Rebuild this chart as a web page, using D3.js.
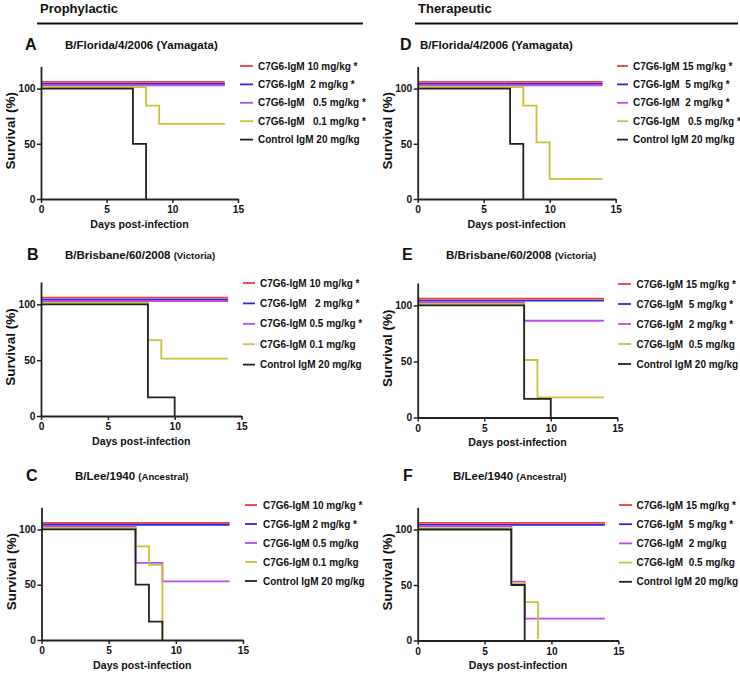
<!DOCTYPE html>
<html>
<head>
<meta charset="utf-8">
<script src="https://cdn.jsdelivr.net/npm/d3@7/dist/d3.min.js"></script>
<style>
  html, body { margin: 0; padding: 0; background: #fff; }
  svg text { font-family: "Liberation Sans", Arial, Helvetica, sans-serif; font-weight: bold; fill: #111; white-space: pre; }
</style>
</head>
<body>
<svg id="chart" width="740" height="675"></svg>
<script>
// ---------------- DATA ----------------
const xTicks = [0, 5, 10, 15];
const yTicks = [0, 50, 100];
const sectionTitles = ["Prophylactic", "Therapeutic"];
const panelLetters = ["A", "B", "C", "D", "E", "F"];
const strainNames = ["B/Florida/4/2006", "B/Brisbane/60/2008", "B/Lee/1940", "B/Florida/4/2006", "B/Brisbane/60/2008", "B/Lee/1940"];
const lineageNames = ["(Yamagata)", "(Victoria)", "(Ancestral)", "(Yamagata)", "(Victoria)", "(Ancestral)"];

const legendA = ["C7G6-IgM 10 mg/kg *", "C7G6-IgM  2 mg/kg *", "C7G6-IgM   0.5 mg/kg *", "C7G6-IgM   0.1 mg/kg *", "Control IgM 20 mg/kg"];
const legendB = ["C7G6-IgM 10 mg/kg *", "C7G6-IgM   2 mg/kg *", "C7G6-IgM 0.5 mg/kg *", "C7G6-IgM 0.1 mg/kg", "Control IgM 20 mg/kg"];
const legendC = ["C7G6-IgM 10 mg/kg *", "C7G6-IgM 2 mg/kg *", "C7G6-IgM 0.5 mg/kg", "C7G6-IgM 0.1 mg/kg", "Control IgM 20 mg/kg"];
const legendD = ["C7G6-IgM 15 mg/kg *", "C7G6-IgM  5 mg/kg *", "C7G6-IgM  2 mg/kg *", "C7G6-IgM   0.5 mg/kg *", "Control IgM 20 mg/kg"];
const legendE = ["C7G6-IgM 15 mg/kg *", "C7G6-IgM  5 mg/kg *", "C7G6-IgM  2 mg/kg *", "C7G6-IgM  0.5 mg/kg", "Control IgM 20 mg/kg"];
const legendF = ["C7G6-IgM 15 mg/kg *", "C7G6-IgM  5 mg/kg *", "C7G6-IgM  2 mg/kg", "C7G6-IgM  0.5 mg/kg", "Control IgM 20 mg/kg"];

// survival steps: [day, percent surviving] (step after)
const survA = [
  [[0, 100], [14, 100]],
  [[0, 100], [14, 100]],
  [[0, 100], [14, 100]],
  [[0, 100], [8, 83.3], [9, 66.7], [14, 66.7]],
  [[0, 100], [7, 50], [8, 0]]
];
const survB = [
  [[0, 100], [14, 100]],
  [[0, 100], [14, 100]],
  [[0, 100], [14, 100]],
  [[0, 100], [8, 66.7], [9, 50], [14, 50]],
  [[0, 100], [8, 16.7], [10, 0]]
];
const survC = [
  [[0, 100], [14, 100]],
  [[0, 100], [14, 100]],
  [[0, 100], [7, 66.7], [9, 50], [14, 50]],
  [[0, 100], [7, 83.3], [8, 66.7], [9, 0]],
  [[0, 100], [7, 50], [8, 16.7], [9, 0]]
];
const survD = [
  [[0, 100], [14, 100]],
  [[0, 100], [14, 100]],
  [[0, 100], [14, 100]],
  [[0, 100], [8, 83.3], [9, 50], [10, 16.7], [14, 16.7]],
  [[0, 100], [7, 50], [8, 0]]
];
const survE = [
  [[0, 100], [14, 100]],
  [[0, 100], [14, 100]],
  [[0, 100], [8, 83.3], [14, 83.3]],
  [[0, 100], [8, 50], [9, 16.7], [14, 16.7]],
  [[0, 100], [8, 16.7], [10, 0]]
];
const survF = [
  [[0, 100], [14, 100]],
  [[0, 100], [14, 100]],
  [[0, 100], [7, 50], [8, 16.7], [14, 16.7]],
  [[0, 100], [7, 50], [8, 33.3], [9, 0]],
  [[0, 100], [7, 50], [8, 0]]
];

// ---------------- STYLE / LAYOUT ----------------
const seriesColors = ["#ef3a3f", "#2a2ad6", "#b54ef0", "#c9c236", "#222222"];
const seriesNudge = [6, 4.2, 3, 1.3, 0];   // GraphPad-like vertical offset of overlapping curves (in % units)

const legends = [legendA, legendB, legendC, legendD, legendE, legendF];
const survivals = [survA, survB, survC, survD, survE, survF];

const layout = [
  { x0: 41,    x15: 238,   top: 66.5,  y0: 199,   lx1: 240, lx2: 253, tx: 258,   ly: 66,  ldy: 18.4, letX: 25,  letY: 50,  tX: 65,  tY: 49 },
  { x0: 41,    x15: 241.5, top: 282,   y0: 416,   lx1: 243, lx2: 255, tx: 260,   ly: 283, ldy: 20.4, letX: 27,  letY: 260, tX: 65,  tY: 259 },
  { x0: 41.5,  x15: 243,   top: 507.3, y0: 640,   lx1: 245, lx2: 257, tx: 263,   ly: 505, ldy: 19,   letX: 26,  letY: 481, tX: 75,  tY: 480 },
  { x0: 417.7, x15: 615.7, top: 66.5,  y0: 199,   lx1: 617, lx2: 628, tx: 633,   ly: 66,  ldy: 18.4, letX: 400, letY: 50,  tX: 420, tY: 49 },
  { x0: 417.7, x15: 617.3, top: 283,   y0: 417.5, lx1: 618, lx2: 631, tx: 636.5, ly: 284, ldy: 20,   letX: 402, letY: 260, tX: 446, tY: 259 },
  { x0: 417.7, x15: 618.3, top: 507.3, y0: 640.5, lx1: 619, lx2: 632, tx: 636.5, ly: 505, ldy: 19.2, letX: 403, letY: 481, tX: 453, tY: 480 }
];

const svg = d3.select("#chart");

// section headers
const headers = [
  { x: 40, y: 13, lx1: 37, lx2: 363 },
  { x: 418, y: 13, lx1: 415, lx2: 738 }
];
headers.forEach((h, i) => {
  svg.append("text").attr("x", h.x).attr("y", h.y).style("font-size", "13px").text(sectionTitles[i]);
  svg.append("line").attr("x1", h.lx1).attr("x2", h.lx2).attr("y1", 23.5).attr("y2", 23.5)
    .attr("stroke", "#111").attr("stroke-width", 2);
});

layout.forEach((L, p) => {
  const g = svg.append("g");
  const x = d3.scaleLinear().domain([0, 15]).range([L.x0, L.x15]);
  const y = d3.scaleLinear().domain([0, 120]).range([L.y0, L.top]);

  // letter + title
  g.append("text").attr("x", L.letX).attr("y", L.letY).style("font-size", "16px").text(panelLetters[p]);
  const t = g.append("text").attr("x", L.tX).attr("y", L.tY).style("font-size", "11.5px");
  t.append("tspan").text(strainNames[p] + " ");
  const smallLineage = (p % 3 !== 0);
  t.append("tspan").style("font-size", smallLineage ? "9.6px" : "11.5px").text(lineageNames[p]);

  // curves
  const line = d3.line().x(d => x(d[0])).y(d => y(d[1])).curve(d3.curveStepAfter);
  survivals[p].forEach((s, i) => {
    g.append("path")
      .datum(s.map(d => [d[0], d[1] + seriesNudge[i]]))
      .attr("d", line)
      .attr("fill", "none")
      .attr("stroke", seriesColors[i])
      .attr("stroke-width", 1.8);
  });

  // axes
  const xAxis = d3.axisBottom(x).tickValues(xTicks).tickSize(4).tickSizeOuter(0).tickPadding(3);
  const yAxis = d3.axisLeft(y).tickValues(yTicks).tickSize(4).tickSizeOuter(0).tickPadding(1.5);
  const gx = g.append("g").attr("transform", `translate(0,${L.y0})`).call(xAxis);
  const gy = g.append("g").attr("transform", `translate(${L.x0},0)`).call(yAxis);
  [gx, gy].forEach(a => {
    a.select(".domain").attr("stroke", "#222").attr("stroke-width", 1.8);
    a.selectAll(".tick line").attr("stroke", "#222").attr("stroke-width", 1.5);
    a.selectAll(".tick text").style("font-size", "10.2px").style("font-family", "'Liberation Sans', Arial, sans-serif").style("font-weight", "bold").attr("fill", "#111");
  });

  // axis titles
  g.append("text").attr("x", (L.x0 + L.x15) / 2).attr("y", L.y0 + 28.5)
    .attr("text-anchor", "middle").style("font-size", "10.6px").text("Days post-infection");
  g.append("text").attr("transform", `translate(${L.x0 - 26},${(L.top + L.y0) / 2 - 2}) rotate(-90)`)
    .attr("text-anchor", "middle").style("font-size", "13.5px").text("Survival (%)");

  // legend
  legends[p].forEach((lab, i) => {
    const yy = L.ly + i * L.ldy;
    g.append("line").attr("x1", L.lx1).attr("x2", L.lx2).attr("y1", yy).attr("y2", yy)
      .attr("stroke", seriesColors[i]).attr("stroke-width", 1.8);
    g.append("text").attr("x", L.tx).attr("y", yy).attr("dy", "0.35em")
      .style("font-size", "10px").text(lab);
  });
});
</script>
</body>
</html>
